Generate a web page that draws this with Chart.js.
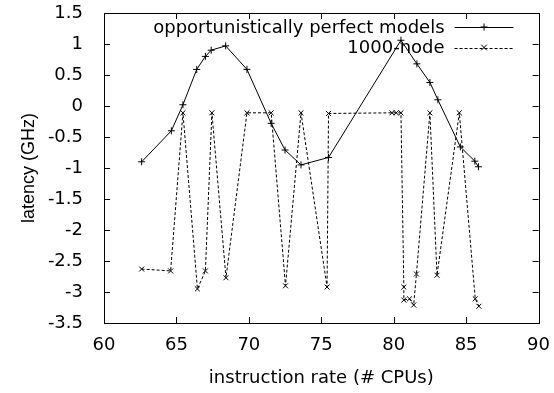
<!DOCTYPE html>
<html>
<head>
<meta charset="UTF-8">
<title>latency vs instruction rate</title>
<style>
  html, body { margin: 0; padding: 0; background: #fff; }
  #wrap { width: 554px; height: 393px; }
</style>
</head>
<body>
<div id="wrap"><canvas id="chart" width="554" height="393"></canvas></div>
<script src="https://cdn.jsdelivr.net/npm/chart.js@4/dist/chart.umd.min.js"></script>
<script>
// values
const seriesNames = ['opportunistically perfect models', '1000-node'];

const perfectX = [62.6, 64.65, 65.45, 66.4, 67.0, 67.4, 68.4, 69.87, 71.54, 72.5, 73.6, 75.5,
                  80.5, 81.6, 82.5, 83.05, 84.6, 85.6, 85.85];
const perfectY = [-0.90, -0.40, 0.02, 0.59, 0.80, 0.90, 0.97, 0.59, -0.28, -0.71, -0.95, -0.83,
                  1.06, 0.68, 0.38, 0.10, -0.66, -0.89, -0.98];

const nodeX = [62.6, 64.6, 65.45, 66.45, 67.0, 67.45, 68.42, 69.87, 71.54, 72.53, 73.6, 75.4, 75.5,
               79.88, 80.18, 80.5, 80.7, 80.7, 81.09, 81.38, 81.57, 82.5, 82.99, 84.53, 85.63, 85.88];
const nodeY = [-2.63, -2.66, -0.11, -2.95, -2.66, -0.11, -2.77, -0.11, -0.11, -2.90, -0.11, -2.92, -0.12,
               -0.11, -0.11, -0.11, -2.92, -3.13, -3.11, -3.21, -2.71, -0.11, -2.73, -0.11, -3.11, -3.23];

const xTicks = [60, 65, 70, 75, 80, 85, 90];
const yTicks = [1.5, 1, 0.5, 0, -0.5, -1, -1.5, -2, -2.5, -3, -3.5];

// the picture's lettering is wide, DejaVu matches its widths best
const FONT = "'DejaVu Sans', sans-serif";
const YTITLE_FONT = "'Liberation Sans', Arial, sans-serif";

function pts(xs, ys) {
    return xs.map((x, i) => ({x: x, y: ys[i]}));
}

// gnuplot style box with inward ticks on all four sides, plus the key
const framePlugin = {
    id: 'frame',
    afterDatasetsDraw(chart) {
        const ctx = chart.ctx;
        const a = chart.chartArea;
        const xs = chart.scales.x, ys = chart.scales.y;
        const len = 6;
        ctx.save();
        ctx.strokeStyle = '#000';
        ctx.lineWidth = 1;
        ctx.setLineDash([]);
        ctx.beginPath();
        xTicks.forEach(v => {
            const px = Math.round(xs.getPixelForValue(v)) + 0.5;
            ctx.moveTo(px, a.bottom); ctx.lineTo(px, a.bottom - len);
            ctx.moveTo(px, a.top); ctx.lineTo(px, a.top + len);
        });
        yTicks.forEach(v => {
            const py = Math.round(ys.getPixelForValue(v)) + 0.5;
            ctx.moveTo(a.left, py); ctx.lineTo(a.left + len, py);
            ctx.moveTo(a.right, py); ctx.lineTo(a.right - len, py);
        });
        ctx.stroke();
        ctx.strokeRect(Math.round(a.left) + 0.5, Math.round(a.top) + 0.5,
                       Math.round(a.right - a.left), Math.round(a.bottom - a.top));

        // key, top right inside the box
        ctx.font = '18px ' + FONT;
        ctx.fillStyle = '#000';
        ctx.textAlign = 'right';
        ctx.textBaseline = 'middle';
        const textRight = a.right - 94;
        const lineL = a.right - 84, lineR = a.right - 25;
        chart.data.datasets.forEach((ds, i) => {
            const y = a.top + 14 + i * 20.5;
            ctx.fillText(ds.label, textRight, y + 1);
            ctx.setLineDash(ds.borderDash || []);
            ctx.beginPath();
            ctx.moveTo(lineL, Math.round(y) + 0.5);
            ctx.lineTo(lineR, Math.round(y) + 0.5);
            ctx.stroke();
            ctx.setLineDash([]);
            const cx = (lineL + lineR) / 2, r = 3.5;
            ctx.beginPath();
            if (ds.pointStyle === 'cross') {
                ctx.moveTo(cx - r, y); ctx.lineTo(cx + r, y);
                ctx.moveTo(cx, y - r); ctx.lineTo(cx, y + r);
            } else {
                ctx.moveTo(cx - r * 0.8, y - r * 0.8); ctx.lineTo(cx + r * 0.8, y + r * 0.8);
                ctx.moveTo(cx - r * 0.8, y + r * 0.8); ctx.lineTo(cx + r * 0.8, y - r * 0.8);
            }
            ctx.stroke();
        });
        ctx.restore();
    }
};

new Chart(document.getElementById('chart'), {
    type: 'scatter',
    data: {
        datasets: [
            {
                label: seriesNames[0],
                data: pts(perfectX, perfectY),
                showLine: true,
                borderColor: '#000',
                backgroundColor: '#000',
                borderWidth: 1,
                pointStyle: 'cross',
                pointRadius: 3.5,
                pointBorderWidth: 1,
                pointBorderColor: '#000'
            },
            {
                label: seriesNames[1],
                data: pts(nodeX, nodeY),
                showLine: true,
                borderColor: '#000',
                backgroundColor: '#000',
                borderWidth: 1,
                borderDash: [3, 2],
                pointStyle: 'crossRot',
                pointRadius: 3.5,
                pointBorderWidth: 1,
                pointBorderColor: '#000'
            }
        ]
    },
    options: {
        responsive: false,
        animation: false,
        devicePixelRatio: 1,
        layout: { padding: { top: 13, right: 8, left: 0, bottom: 0 } },
        plugins: {
            legend: { display: false },
            tooltip: { enabled: false }
        },
        scales: {
            x: {
                type: 'linear',
                min: 60,
                max: 90,
                afterBuildTicks: s => { s.ticks = xTicks.map(v => ({value: v})); },
                afterFit: s => { s.height = 70; },
                grid: { display: false },
                border: { display: false },
                ticks: { color: '#000', font: { family: FONT, size: 18 }, padding: 4, maxRotation: 0,
                         callback: v => String(v) },
                title: {
                    display: true,
                    text: 'instruction rate (# CPUs)',
                    color: '#000',
                    font: { family: FONT, size: 18 },
                    padding: { top: 0, bottom: 4 }
                }
            },
            y: {
                type: 'linear',
                min: -3.5,
                max: 1.5,
                afterBuildTicks: s => { s.ticks = yTicks.map(v => ({value: v})); },
                afterFit: s => { s.width = 104; s.paddingTop = 0; s.paddingBottom = 0; },
                grid: { display: false },
                border: { display: false },
                ticks: { color: '#000', font: { family: FONT, size: 18 }, padding: 13,
                         callback: v => String(v) },
                title: {
                    display: true,
                    text: 'latency (GHz)',
                    color: '#000',
                    font: { family: YTITLE_FONT, size: 18 },
                    padding: { top: 18, bottom: 0 }
                }
            }
        }
    },
    plugins: [framePlugin]
});
</script>
</body>
</html>
